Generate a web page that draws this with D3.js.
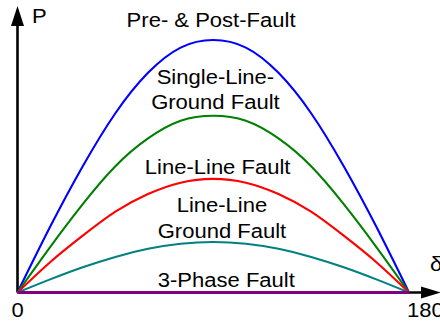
<!DOCTYPE html>
<html>
<head>
<meta charset="utf-8">
<script src="https://cdn.jsdelivr.net/npm/d3@7"></script>
<style>
  html, body { margin: 0; padding: 0; background: #fff; }
  svg { display: block; font-family: "Liberation Sans", Arial, sans-serif; }
</style>
</head>
<body>
<svg id="chart" width="440" height="321"></svg>
<script>
// load angle, degrees
const angles = [0, 15, 30, 45, 60, 75, 90, 105, 120, 135, 150, 165, 180];

// power, relative to the pre-fault peak
const preFault = [0, 0.26, 0.50, 0.71, 0.87, 0.97, 1.00, 0.97, 0.87, 0.71, 0.50, 0.26, 0];
const singleLineGround = [0, 0.18, 0.35, 0.50, 0.61, 0.68, 0.70, 0.68, 0.61, 0.50, 0.35, 0.18, 0];
const lineLine = [0, 0.12, 0.225, 0.32, 0.39, 0.435, 0.45, 0.435, 0.39, 0.32, 0.225, 0.12, 0];
const lineLineGround = [0, 0.052, 0.10, 0.141, 0.173, 0.193, 0.20, 0.193, 0.173, 0.141, 0.10, 0.052, 0];
const threePhase = [0, 0, 0, 0, 0, 0, 0, 0, 0, 0, 0, 0, 0];

const seriesNames = ['Pre- & Post-Fault', 'Single-Line-Ground Fault', 'Line-Line Fault',
  'Line-Line Ground Fault', '3-Phase Fault'];
const seriesColors = ['#0000ff', '#008000', '#ff0000', '#008080', '#800080'];

// curve labels, split over lines, with the anchor (angle, power) of the last line
const labelLines = [['Pre- & Post-Fault'], ['Single-Line-', 'Ground Fault'], ['Line-Line Fault'],
  ['Line-Line', 'Ground Fault'], ['3-Phase Fault']];
const labelAngles = [89, 91, 92, 94, 96];
const labelPower = [1.05, 0.725, 0.468, 0.216, 0.023];

const xTicks = [0, 180];
const xTickLabels = ['0', '180'];

const svg = d3.select('#chart');
const x = d3.scaleLinear().domain([0, 180]).range([17.5, 409]);
const y = d3.scaleLinear().domain([0, 1]).range([292.5, 40]);

const series = [preFault, singleLineGround, lineLine, lineLineGround, threePhase];

// axes with arrows
svg.append('line')
  .attr('x1', x(0)).attr('y1', y(0)).attr('x2', x(0)).attr('y2', 20)
  .attr('stroke', '#000').attr('stroke-width', 2.6);
svg.append('path')
  .attr('d', `M${x(0)},6 L${x(0) - 6.5},26 L${x(0) + 6.5},26 Z`)
  .attr('fill', '#000');
svg.append('line')
  .attr('x1', x(0)).attr('y1', y(0)).attr('x2', 428).attr('y2', y(0))
  .attr('stroke', '#000').attr('stroke-width', 2.6);
svg.append('path')
  .attr('d', `M441,${y(0)} L421,${y(0) - 6} L421,${y(0) + 6} Z`)
  .attr('fill', '#000');

const line = d3.line()
  .x((d, i) => x(angles[i]))
  .y(d => y(d))
  .curve(d3.curveNatural);

svg.selectAll('path.curve')
  .data(series)
  .join('path')
  .attr('class', 'curve')
  .attr('d', line)
  .attr('fill', 'none')
  .attr('stroke', (d, i) => seriesColors[i])
  .attr('stroke-width', (d, i) => i === 4 ? 2.8 : 2.1)
  .append('title')
  .text((d, i) => seriesNames[i]);

// wide text, as in the original drawing
const stretch = 'scale(1.13,1)';

const labels = svg.selectAll('g.label')
  .data(labelLines)
  .join('g')
  .attr('class', 'label')
  .attr('transform', (d, i) => `translate(${x(labelAngles[i])},${y(labelPower[i])}) ${stretch}`);
labels.selectAll('text')
  .data(d => d.map((t, k) => ({ t, k, n: d.length })))
  .join('text')
  .attr('y', d => (d.k - d.n + 1) * 25.5)
  .attr('text-anchor', 'middle')
  .attr('font-size', 19.5)
  .attr('fill', '#000')
  .text(d => d.t);

svg.selectAll('g.tick')
  .data(xTicks)
  .join('g')
  .attr('class', 'tick')
  .attr('transform', (d, i) => `translate(${i === 0 ? x(d) : x(d) - 2},317) ${stretch}`)
  .append('text')
  .attr('text-anchor', (d, i) => i === 0 ? 'middle' : 'start')
  .attr('font-size', 19.5)
  .text((d, i) => xTickLabels[i]);

svg.append('text')
  .attr('transform', `translate(32,23) ${stretch}`)
  .attr('font-size', 19.5)
  .text('P');
svg.append('text')
  .attr('transform', `translate(430,271) ${stretch}`)
  .attr('font-size', 19.5)
  .text('δ');
</script>
</body>
</html>
